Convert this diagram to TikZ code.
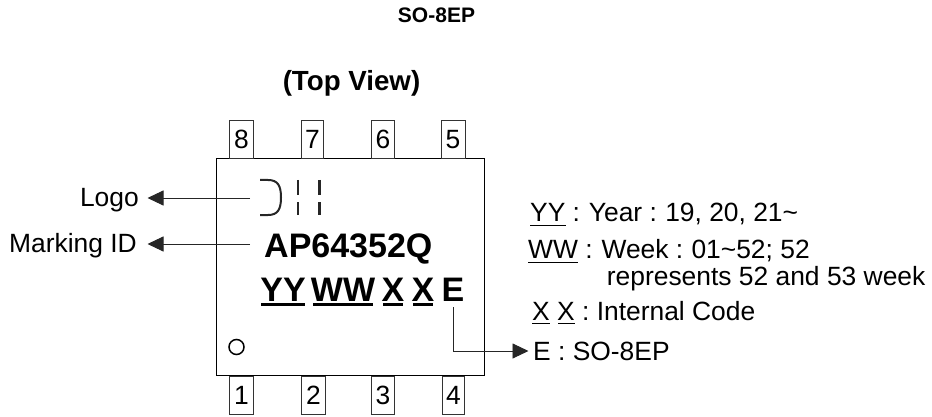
\documentclass[tikz,border=0pt]{standalone}
\usepackage{fontspec}
\setmainfont{Liberation Sans}
\usetikzlibrary{arrows.meta}
\frenchspacing
\tikzset{
 x=1pt,y=-1pt,
 pinbox/.style={draw=black!80,line width=0.9pt,anchor=north west,minimum height=38pt,inner sep=0pt,font=\fontsize{26.4}{26.4}\selectfont},
 lab/.style={inner sep=0pt,font=\fontsize{26.4}{26.4}\selectfont},
 markb/.style={inner sep=0pt,anchor=base,font=\fontsize{34}{34}\bfseries\selectfont},
 leader/.style={draw=black!85,line width=0.9pt,-{Triangle[length=16pt,width=15pt]}},
 ul/.style={draw=black,line width=2.6pt},
 thinul/.style={draw=black,line width=0.9pt}
}
\begin{document}
\begin{tikzpicture}
\useasboundingbox (0,0) rectangle (932,417);
\node[inner sep=0pt,anchor=base,font=\fontsize{21}{21}\bfseries\selectfont] (title) at (436.5,23) {SO-8EP};
\node[inner sep=0pt,anchor=base,font=\fontsize{27.7}{27.7}\bfseries\selectfont] (view) at (351.5,91) {(Top View)};
\node[draw=black,line width=0.9pt,minimum width=268.5pt,minimum height=216.5pt,anchor=north west,inner sep=0pt] (body) at (215.5,158.5) {};
\foreach \n/\xa/\w in {8/229/24,7/301/22,6/371/23,5/440.5/24}
 \node[pinbox,minimum width=\w pt] (p\n) at (\xa,120) {\n};
\foreach \n/\xa/\w in {1/229/24,2/301/24,3/371/23,4/442/22}
 \node[pinbox,minimum width=\w pt] (p\n) at (\xa,376) {\raisebox{-2pt}{\n}};
% logo
\draw[line width=2pt,draw=black!85] (260,180) -- (268,180) .. controls (278,180) and (281,186) .. (281,197.5) .. controls (281,209) and (278,215) .. (268,215) -- (260,215);
\draw[line width=2.8pt,draw=black!85] (298,180) -- (298,195) (298,202) -- (298,215);
\draw[line width=2.8pt,draw=black!85] (319.5,180) -- (319.5,195) (319.5,202) -- (319.5,215);
\coordinate (logoend) at (250,198);
\coordinate (markend) at (250,244);
\coordinate (logotip) at (147.5,198);
\coordinate (marktip) at (147.5,244);
\node[lab,anchor=base east] (logo) at (139,206) {Logo};
\node[lab,anchor=base east] (mid) at (137,252.5) {Marking ID};
\draw[leader] (logoend) -- (logotip);
\draw[leader] (markend) -- (marktip);
\node[markb,anchor=base west] (ap) at (264,257) {AP64352Q};
\node[markb] (yy) at (283,301) {YY};
\node[markb] (ww) at (343,301) {WW};
\node[markb] (x1) at (393,301) {X};
\node[markb] (x2) at (423,301) {X};
\node[markb] (e) at (453,301) {E};
\draw[ul] (261,304.5) -- (305,304.5) (313,304.5) -- (373,304.5) (383,304.5) -- (403,304.5) (413,304.5) -- (433,304.5);
\node[draw=black,circle,line width=1.5pt,minimum size=15pt,inner sep=0pt] (dot) at (236.5,347) {};
\coordinate (estart) at (453,307);
\coordinate (etip) at (528.5,351);
\node[lab,anchor=base west] (ecode) at (533,360.5) {E : SO-8EP};
\draw[leader] (estart) |- (etip);
\node[lab,anchor=base west] (t1) at (530,222) {YY :\kern1.5pt{} Year :\kern1pt{} 19, 20, 21\textasciitilde};
\node[lab,anchor=base west] (t2) at (528,258) {WW :\kern1.5pt{} Week :\kern1pt{} 01\textasciitilde 52; 52};
\node[lab,anchor=base west] (t3) at (606.7,285) {represents 52 and 53 week};
\node[lab,anchor=base west] (t4) at (532,320) {X X : Internal Code};
\draw[thinul] (530,225.5) -- (566,225.5) (528,262) -- (578,262) (532,323.5) -- (550,323.5) (558,323.5) -- (575,323.5);
\end{tikzpicture}
\end{document}
